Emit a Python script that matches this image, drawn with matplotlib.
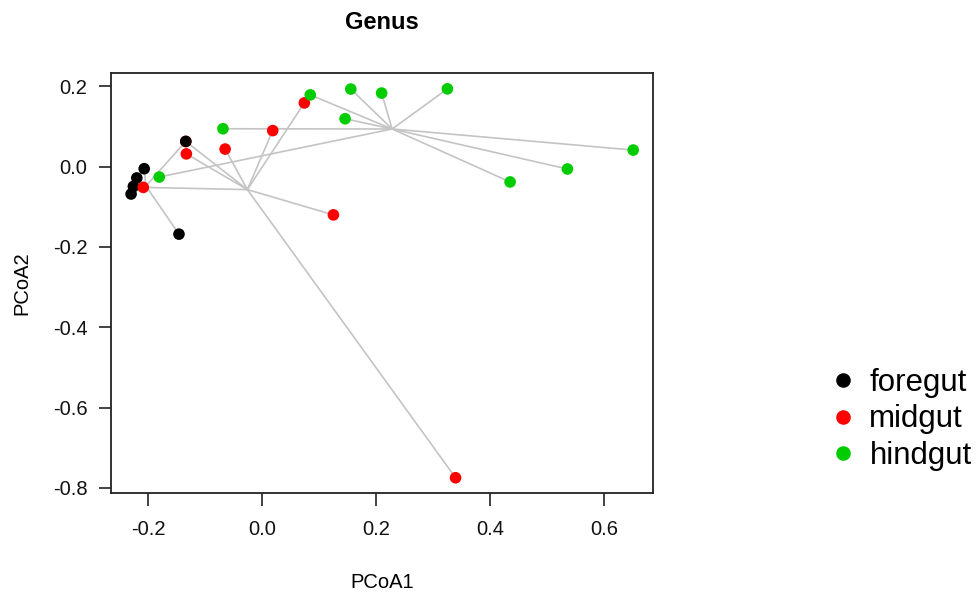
import matplotlib
matplotlib.use("Agg")
import matplotlib.pyplot as plt
from matplotlib.lines import Line2D
import numpy as np

plt.rcParams['font.family'] = ['Liberation Sans', 'DejaVu Sans']
plt.rcParams['axes.unicode_minus'] = False

# ---- data ----
groups = ["foregut", "midgut", "hindgut"]
group_colors = ["#000000", "#FF0000", "#00CD00"]

# samples in drawing order
sample_group = ["midgut",
                "foregut", "foregut", "foregut", "foregut", "foregut", "foregut",
                "midgut", "midgut", "midgut", "midgut", "midgut", "midgut", "midgut",
                "hindgut", "hindgut", "hindgut", "hindgut", "hindgut",
                "hindgut", "hindgut", "hindgut", "hindgut", "hindgut"]
pcoa1 = [-0.134,
         -0.134, -0.207, -0.220, -0.226, -0.230, -0.146,
         -0.133, -0.065, 0.0185, 0.074, 0.125, -0.2086, 0.3393,
         -0.0688, -0.1806, 0.0844, 0.1555, 0.2096, 0.1455, 0.325, 0.651, 0.5356, 0.435]
pcoa2 = [0.063,
         0.063, -0.005, -0.028, -0.049, -0.068, -0.168,
         0.032, 0.044, 0.090, 0.159, -0.120, -0.0515, -0.775,
         0.0946, -0.0257, 0.179, 0.1935, 0.1835, 0.1195, 0.194, 0.0415, -0.0057, -0.038]

# spider centres per group
centre_pcoa1 = [-0.204, -0.026, 0.228]
centre_pcoa2 = [-0.048, -0.057, 0.094]

xticks = [-0.2, 0.0, 0.2, 0.4, 0.6]
yticks = [-0.8, -0.6, -0.4, -0.2, 0.0, 0.2]

# ---- figure ----
fig = plt.figure(figsize=(9.79, 5.99), dpi=100)
ax = fig.add_axes([111/979, 1-493.3/599, (653.3-111)/979, (493.3-73.3)/599])

gidx = {g: i for i, g in enumerate(groups)}
for x, y, g in zip(pcoa1, pcoa2, sample_group):
    i = gidx[g]
    ax.plot([centre_pcoa1[i], x], [centre_pcoa2[i], y], color="#C4C4C4",
            lw=1.2, zorder=1, solid_capstyle='butt')

cols = [group_colors[gidx[g]] for g in sample_group]
ax.scatter(pcoa1, pcoa2, c=cols, s=70, edgecolors='none', zorder=3)

ax.margins(x=0.04, y=0.04)
ax.set_xticks(xticks)
ax.set_yticks(yticks)
ax.set_xticklabels([f"{v:.1f}" for v in xticks])
ax.set_yticklabels([f"{v:.1f}" for v in yticks])
ax.tick_params(direction='out', length=9, width=1.2, labelsize=14.5,
               color='#222222', labelcolor='#111111')
ax.tick_params(axis='x', pad=10.5)
ax.tick_params(axis='y', pad=8)
for s in ax.spines.values():
    s.set_linewidth(1.3)
    s.set_color('#222222')

ax.set_title("Genus", fontsize=17, fontweight='bold', pad=0, y=1.0)
ax.title.set_position((0.5, (493.3-22)/420))
ax.title.set_va('center')

ax.set_xlabel("PCoA1", fontsize=14.5, va='center')
ax.xaxis.set_label_coords(0.5, (493.3-583)/420)
ax.set_ylabel("PCoA2", fontsize=14.5, va='center')
ax.yaxis.set_label_coords((22-111)/542.3, 0.5)

handles = [Line2D([], [], ls='none', marker='o', markersize=10.5,
                  markerfacecolor=c, markeredgecolor='none') for c in group_colors]
fig.legend(handles, groups, loc='center left', bbox_to_anchor=(831/979, 1-419.5/599),
           frameon=False, fontsize=22.5, handlelength=0.78, handletextpad=0.45,
           borderpad=0, borderaxespad=0, labelspacing=0.2)

fig.savefig("out.png", dpi=100)
